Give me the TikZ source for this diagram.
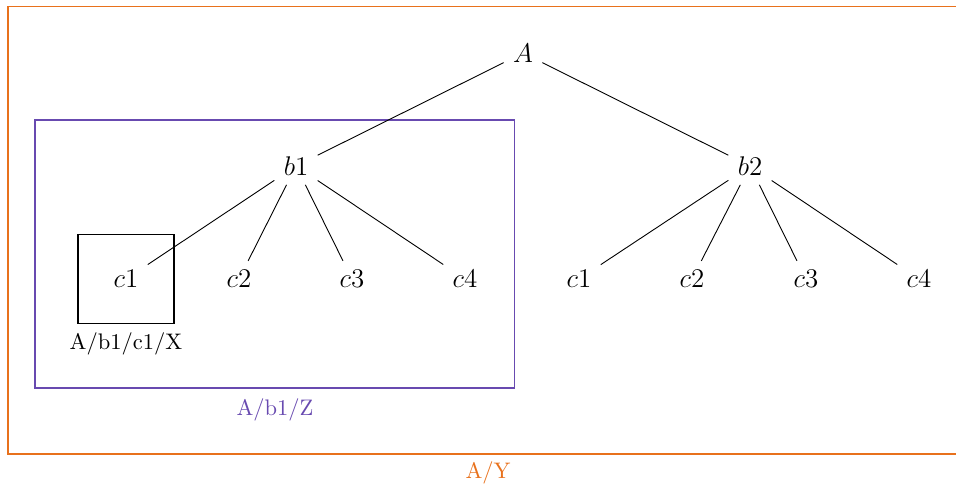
\documentclass[tikz,border=0pt]{standalone}
\definecolor{orng}{RGB}{232,113,28}
\definecolor{purp}{RGB}{104,74,176}
\begin{document}
\begin{tikzpicture}[x=0.4444pt,y=-0.4444pt,
  tn/.style={inner sep=4pt, font=\large},
  edge/.style={draw=black, line width=0.4pt}]
\useasboundingbox (0,0) rectangle (956,488);
% frames
\draw[orng, line width=0.6pt] (962,454) -- (8,454) -- (8,6.5) -- (962,6.5);
\node[orng] (ly) at (488,473) {A/Y};
\draw[purp, line width=0.5pt] (35,120) rectangle (514.5,388);
\node[purp] (lz) at (275,410) {A/b1/Z};
\draw[black, line width=0.45pt] (78,234) rectangle (174,323);
\node (lx) at (126,344) {A/b1/c1/X};
% tree
\node[tn] (A) at (523,53) {$A$};
\node[tn] (b1) at (296,166) {$b1$};
\node[tn] (b2) at (750,166) {$b2$};
\node[tn] (c11) at (126,279) {$c1$};
\node[tn] (c12) at (239,279) {$c2$};
\node[tn] (c13) at (352,279) {$c3$};
\node[tn] (c14) at (465,279) {$c4$};
\node[tn] (c21) at (579,279) {$c1$};
\node[tn] (c22) at (692,279) {$c2$};
\node[tn] (c23) at (806,279) {$c3$};
\node[tn] (c24) at (919,279) {$c4$};
\draw[edge] (A) -- (b1);
\draw[edge] (A) -- (b2);
\foreach \c in {c11,c12,c13,c14}{\draw[edge] (b1) -- (\c);}
\foreach \c in {c21,c22,c23,c24}{\draw[edge] (b2) -- (\c);}
\end{tikzpicture}
\end{document}
